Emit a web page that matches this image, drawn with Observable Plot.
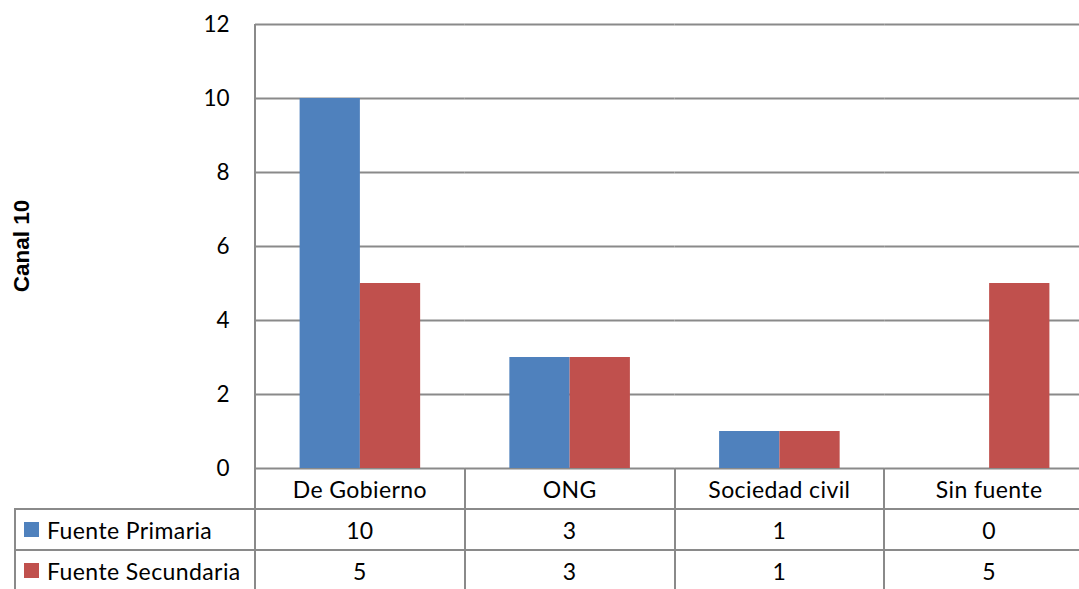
<!DOCTYPE html>
<html><head><meta charset="utf-8">
<script src="https://cdn.jsdelivr.net/npm/d3@7"></script>
<script src="https://cdn.jsdelivr.net/npm/@observablehq/plot@0.6"></script>
<style>
html,body{margin:0;padding:0;background:#fff;overflow:hidden;}
#wrap{position:relative;width:1079px;height:589px;overflow:hidden;font-family:Lato,sans-serif;}
#wrap svg{position:absolute;left:0;top:0;max-width:none !important;}
.cell{position:absolute;display:flex;align-items:center;justify-content:center;font-size:23px;letter-spacing:0.4px;color:#000;white-space:nowrap;}
.lcell{position:absolute;display:flex;align-items:center;font-size:23px;letter-spacing:0.4px;color:#000;white-space:nowrap;}
.key{display:inline-block;width:15px;height:15px;margin-left:9px;margin-right:8px;}
.hl{position:absolute;background:#8a8a8a;height:2px;}
.vl{position:absolute;background:#8a8a8a;width:2px;}
.ytitle{position:absolute;font-family:"Liberation Sans",Arial,sans-serif;font-weight:bold;font-size:22.5px;transform:translate(-50%,-50%) rotate(-90deg);white-space:nowrap;}
</style></head>
<body><div id="wrap"></div>
<script>
const categories = ["De Gobierno", "ONG", "Sociedad civil", "Sin fuente"];
const seriesNames = ["Fuente Primaria", "Fuente Secundaria"];
const primaria = [10, 3, 1, 0];
const secundaria = [5, 3, 1, 5];
const yTicks = [0, 2, 4, 6, 8, 10, 12];
const colors = ["#4F81BD", "#C0504D"];
const yLabel = "Canal 10";

const seriesValues = [primaria, secundaria];
const rows = categories.flatMap((c, i) => seriesNames.map((s, j) => ({cat: c, series: s, value: seriesValues[j][i]})));

const W = 1094, H = 589, ML = 255, MT = 24, MB = 121;
const chart = Plot.plot({
  width: W, height: H, marginLeft: ML, marginRight: 0, marginTop: MT, marginBottom: MB,
  style: {fontFamily: "Lato, sans-serif", fontSize: "22px", color: "#000", background: "transparent", maxWidth: "none"},
  fx: {domain: categories, padding: 0, axis: null, round: false},
  x: {domain: seriesNames, paddingInner: 0, paddingOuter: 0.74, axis: null, round: false},
  y: {domain: [0, 12], label: null},
  color: {domain: seriesNames, range: colors},
  marks: [
    Plot.gridY(yTicks, {stroke: "#8a8a8a", strokeOpacity: 1, strokeWidth: 2}),
    Plot.barY(rows, {fx: "cat", x: "series", y: "value", fill: "series"}),
    Plot.axisY(yTicks, {tickSize: 0, tickPadding: 26, fontSize: 22.5, label: null})
  ]
});
chart.style.maxWidth = "none";
chart.style.width = W + "px";
chart.style.height = H + "px";
const wrap = document.getElementById("wrap");
wrap.appendChild(chart);

// data table below the plot, aligned with the fx scale
const bw = (W - ML) / categories.length;
const y0 = H - MB; // baseline
const r1 = y0 + 41, r2 = y0 + 82, bottom = H;
function add(cls, style, html) {
  const d = document.createElement("div");
  d.className = cls;
  Object.assign(d.style, style);
  if (html != null) d.innerHTML = html;
  wrap.appendChild(d);
  return d;
}
add("hl", {left: "15px", top: (r1 - 1) + "px", width: (W - 15) + "px"});
add("hl", {left: "15px", top: (r2 - 1) + "px", width: (W - 15) + "px"});
add("vl", {left: (ML - 1) + "px", top: MT + "px", height: (bottom - MT) + "px"});
add("vl", {left: "14px", top: (r1 - 1) + "px", height: (bottom - r1 + 1) + "px"});
categories.forEach((c, i) => {
  const x = ML + (i + 1) * bw;
  add("vl", {left: (x - 1) + "px", top: y0 + "px", height: (bottom - y0) + "px"});
  const left = ML + i * bw;
  add("cell", {left: left + "px", top: y0 + "px", width: bw + "px", height: "41px"}, c);
  seriesValues.forEach((vals, j) => {
    const top = j === 0 ? r1 : r2;
    add("cell", {left: left + "px", top: top + "px", width: bw + "px", height: "41px"}, String(vals[i]));
  });
});
seriesNames.forEach((s, j) => {
  const top = j === 0 ? r1 : r2;
  add("lcell", {left: "15px", top: top + "px", width: (ML - 15) + "px", height: "41px"},
    `<span class="key" style="background:${colors[j]}"></span>${s}`);
});
add("ytitle", {left: "22px", top: "246px"}, yLabel);
</script>
</body></html>
